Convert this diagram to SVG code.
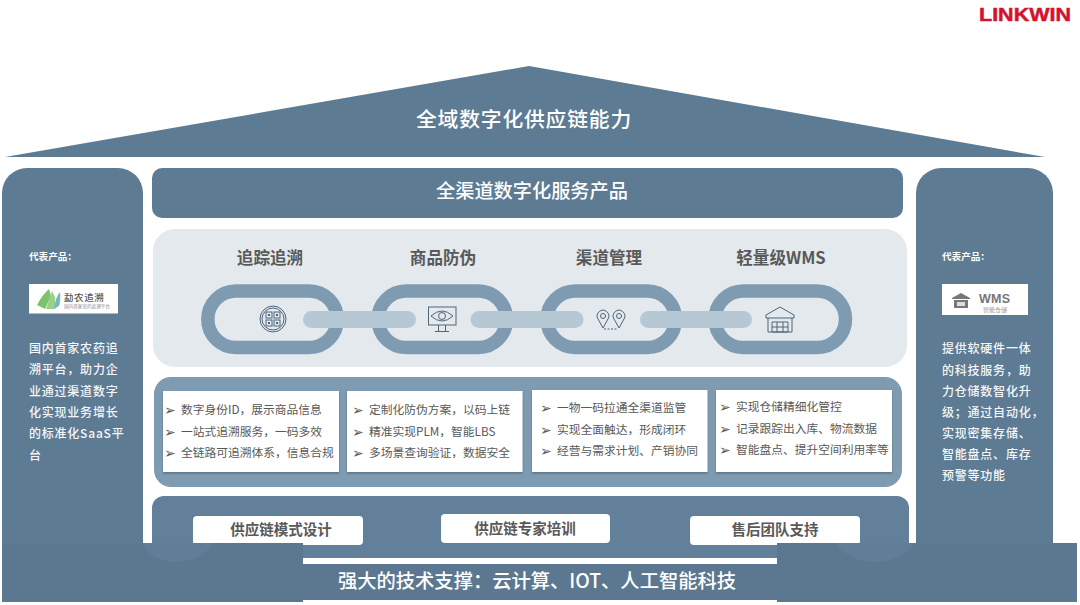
<svg xmlns="http://www.w3.org/2000/svg" width="1080" height="605" viewBox="0 0 1080 605">
<defs>
<filter id="sh" x="-5%" y="-10%" width="110%" height="125%"><feDropShadow dx="0" dy="1.500" stdDeviation="1.200" flood-color="#3e5568" flood-opacity=".6"/></filter>
</defs>
<style>
text{font-family:"Noto Sans CJK SC","Noto Sans",sans-serif}
.w{fill:#fff}
.main{fill:#5d7b93}
.side{font-size:12px;fill:#f4f6f8;letter-spacing:.78px;font-weight:500}
.rep{font-size:9.600px;fill:#fff;font-weight:700}
.h{font-size:16.600px;fill:#595959;font-weight:700;text-anchor:middle}
.ring{fill:none;stroke:#7f9bb2;stroke-width:13.500}
.bar{fill:#b7c8d5}
.box{fill:#fff;filter:url(#sh)}
.b{font-size:11.750px;fill:#595959}
.ar{font-size:14px;fill:#595959;font-family:"DejaVu Sans",sans-serif}
.btn{font-size:14.500px;fill:#595959;font-weight:700;text-anchor:middle}
.ic{fill:none;stroke:#4f6579;stroke-width:1}
</style>

<g id="roof">
<polygon points="5,157 529,66 1045,157" class="main"/>
<text x="524" y="127" class="w" font-size="20.800" font-weight="500" text-anchor="middle" letter-spacing=".8">全域数字化供应链能力</text>
</g>

<g id="left-pillar">
<path class="main" d="M2,193a25,25 0 0 1 25,-25H118a25,25 0 0 1 25,25V545H2Z"/>
<text x="29" y="260" class="rep">代表产品：</text>
<rect x="29" y="284" width="89" height="29.500" fill="#fff"/>
<path d="M37,305Q42,295 49,289L51,296L45,309Z" fill="#7cc36c"/>
<path d="M46,309L52,291L55,297L55,309Z" fill="#9ad08a"/>
<path d="M54,309Q55,298 60,292Q61,300 59,306Z" fill="#74b9bb"/>
<text x="64" y="301" font-size="9.500" fill="#555" font-weight="500" letter-spacing=".6">勐农追溯</text>
<text x="64" y="308" font-size="4.600" fill="#8a8a8a">国内首家农药追溯平台</text>
<text class="side"><tspan x="29" y="353">国内首家农药追</tspan><tspan x="29" y="374">溯平台，助力企</tspan><tspan x="29" y="396">业通过渠道数字</tspan><tspan x="29" y="417">化实现业务增长</tspan><tspan x="29" y="438">的标准化SaaS平</tspan><tspan x="29" y="460">台</tspan></text>
</g>

<g id="right-pillar">
<path class="main" d="M916,193a25,25 0 0 1 25,-25H1028a25,25 0 0 1 25,25V545H916Z"/>
<text x="942" y="260" class="rep">代表产品：</text>
<rect x="942" y="284" width="86" height="31" fill="#fff"/>
<path d="M952,298l9,-5l9,5v1h-18zM954,300h14v8h-14z" fill="#777"/>
<rect x="957" y="302" width="8" height="4" fill="#ddd"/>
<text x="979" y="302.500" font-size="12.500" font-weight="700" fill="#777" style="font-family:'Liberation Sans',sans-serif" textLength="31">WMS</text>
<text x="983" y="312" font-size="6" fill="#999">智能仓储</text>
<text class="side"><tspan x="942" y="353">提供软硬件一体</tspan><tspan x="942" y="375">的科技服务，助</tspan><tspan x="942" y="396">力仓储数智化升</tspan><tspan x="942" y="417">级；通过自动化，</tspan><tspan x="942" y="438">实现密集存储、</tspan><tspan x="942" y="459">智能盘点、库存</tspan><tspan x="942" y="480">预警等功能</tspan></text>
</g>

<g id="service-bar">
<rect x="152" y="168" width="751" height="50" rx="10" class="main"/>
<text x="532" y="198" class="w" font-size="19.200" font-weight="500" text-anchor="middle">全渠道数字化服务产品</text>
</g>

<g id="chain-panel">
<rect x="153" y="229" width="754" height="138" rx="22" fill="#e4e9ee"/>
<text x="270" y="264" class="h">追踪追溯</text>
<text x="443" y="264" class="h">商品防伪</text>
<text x="609" y="264" class="h">渠道管理</text>
<text x="781" y="264" class="h">轻量级WMS</text>
</g>

<g id="connectors">
<rect class="ring" x="207.800" y="291" width="129.500" height="56.500" rx="28.200"/>
<rect class="ring" x="378" y="291" width="128.500" height="56.500" rx="28.200"/>
<rect class="ring" x="547" y="291" width="128.500" height="56.500" rx="28.200"/>
<rect class="ring" x="715" y="291" width="130.500" height="56.500" rx="28.200"/>
<rect class="bar" x="303" y="311" width="113" height="17" rx="8.500"/>
<rect class="bar" x="470.500" y="311" width="113" height="17" rx="8.500"/>
<rect class="bar" x="640" y="311" width="112" height="17" rx="8.500"/>
</g>

<g id="icon-qr">
<circle class="ic" cx="273" cy="319" r="13" stroke-width="1.300"/><circle class="ic" cx="273" cy="319" r="11"/>
<rect class="ic" x="266" y="312" width="6" height="6"/><rect class="ic" x="274" y="312" width="6" height="6"/><rect class="ic" x="266" y="320" width="6" height="6"/><rect class="ic" x="274" y="320" width="6" height="6"/>
<rect x="268" y="314" width="2" height="2" fill="#4f6579"/><rect x="276" y="314" width="2" height="2" fill="#4f6579"/><rect x="268" y="322" width="2" height="2" fill="#4f6579"/><rect x="276" y="322" width="2" height="2" fill="#4f6579"/>
</g>
<g id="icon-monitor">
<rect class="ic" x="428.500" y="307" width="27.500" height="18"/>
<path class="ic" d="M431,316q11,-10 22,0q-11,10 -22,0Z"/><circle class="ic" cx="442" cy="316" r="3.500"/>
<path class="ic" d="M438.500,325v6M445.500,325v6M435,331.500h14"/>
</g>
<g id="icon-pins">
<path class="ic" d="M603,328l-5,-9a5.800,5.800 0 1 1 10,0Z"/><circle class="ic" cx="603" cy="316" r="2.500"/>
<path class="ic" d="M619,328l-5,-9a5.800,5.800 0 1 1 10,0Z"/><circle class="ic" cx="619" cy="316" r="2.500"/>
<path class="ic" d="M604,329h14" stroke-dasharray="2 1.500"/>
</g>
<g id="icon-warehouse">
<path class="ic" d="M766,315l14,-8l14,8v3h-28ZM768,318v14h24v-14M772,322h16v10h-16zM772,327h16M777,322v10M783,322v10" stroke-width="1.100"/>
</g>

<g id="features-panel">
<rect x="154" y="377" width="748" height="110" rx="17" fill="#7f9bb2"/>
</g>
<g id="feature-1">
<rect class="box" x="163" y="391" width="176" height="81"/>
<text class="ar" x="164" y="415">➢</text><text class="ar" x="164" y="437">➢</text><text class="ar" x="164" y="458">➢</text>
<text class="b"><tspan x="181" y="414">数字身份ID，展示商品信息</tspan><tspan x="181" y="436">一站式追溯服务，一码多效</tspan><tspan x="181" y="457">全链路可追溯体系，信息合规</tspan></text>
</g>
<g id="feature-2">
<rect class="box" x="347" y="391" width="175.500" height="81"/>
<text class="ar" x="352" y="415">➢</text><text class="ar" x="352" y="437">➢</text><text class="ar" x="352" y="458">➢</text>
<text class="b"><tspan x="369" y="414">定制化防伪方案，以码上链</tspan><tspan x="369" y="436">精准实现PLM，智能LBS</tspan><tspan x="369" y="457">多场景查询验证，数据安全</tspan></text>
</g>
<g id="feature-3">
<rect class="box" x="532" y="390" width="175.500" height="82"/>
<text class="ar" x="540" y="413">➢</text><text class="ar" x="540" y="435">➢</text><text class="ar" x="540" y="456">➢</text>
<text class="b"><tspan x="557" y="412">一物一码拉通全渠道监管</tspan><tspan x="557" y="434">实现全面触达，形成闭环</tspan><tspan x="557" y="455">经营与需求计划、产销协同</tspan></text>
</g>
<g id="feature-4">
<rect class="box" x="716" y="390" width="176" height="82"/>
<text class="ar" x="719" y="412">➢</text><text class="ar" x="719" y="434">➢</text><text class="ar" x="719" y="455">➢</text>
<text class="b"><tspan x="736" y="411">实现仓储精细化管控</tspan><tspan x="736" y="433">记录跟踪出入库、物流数据</tspan><tspan x="736" y="454">智能盘点、提升空间利用率等</tspan></text>
</g>

<g id="services-panel">
<path d="M152,508a12,12 0 0 1 12,-12H897a12,12 0 0 1 12,12V558H152Z" fill="#62809a"/>
<rect x="193" y="516" width="170" height="29" rx="4" fill="#fff"/>
<rect x="441" y="514" width="169" height="29" rx="4" fill="#fff"/>
<rect x="690" y="516" width="170" height="29" rx="4" fill="#fff"/>
<text x="281" y="535" class="btn">供应链模式设计</text>
<text x="525" y="534" class="btn">供应链专家培训</text>
<text x="775" y="535" class="btn">售后团队支持</text>
</g>

<g id="base">
<rect x="303" y="564" width="474" height="36" fill="#5b7890"/>
<rect x="2" y="543" width="301" height="59" fill="#5b7890"/>
<rect x="777" y="543" width="300" height="59" fill="#5b7890"/>
<path d="M143,543q6,17 30,19q30,-1 40,-19Z" fill="#607e97"/>
<path d="M835,543q15,19 40,19q25,0 40,-19Z" fill="#607e97"/>
<text x="537" y="588" class="w" font-size="19.300" font-weight="500" text-anchor="middle">强大的技术支撑：云计算、IOT、人工智能科技</text>
</g>

<g id="logo">
<text x="979" y="21" font-size="19" font-weight="700" fill="#d2132f" stroke="#d2132f" stroke-width=".5" style="font-family:'Liberation Sans',sans-serif" textLength="92" lengthAdjust="spacingAndGlyphs">LINKWIN</text>
</g>
</svg>
